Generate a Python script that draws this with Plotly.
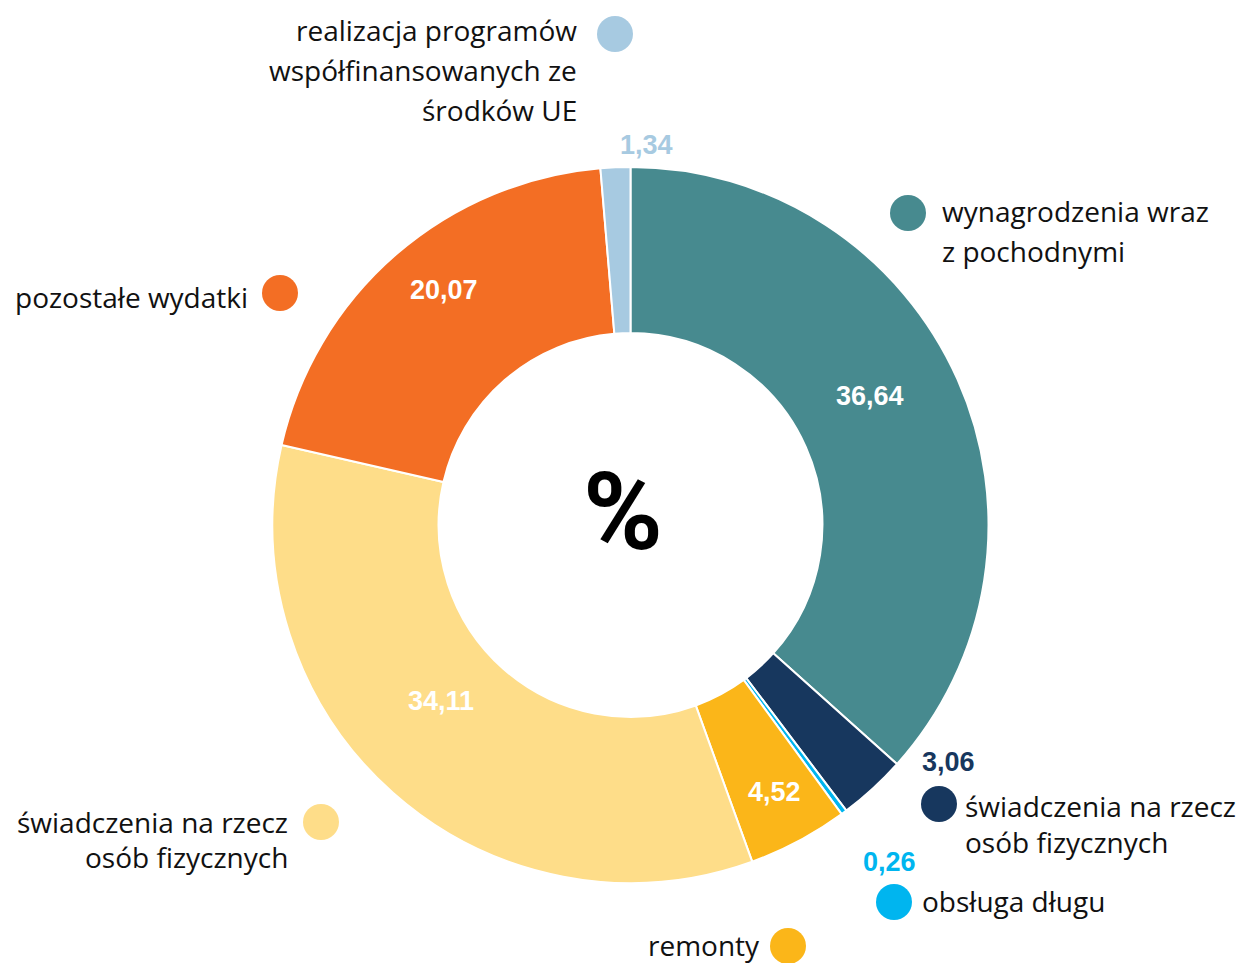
import plotly.graph_objects as go

# ---- data ----
categories = [
    "wynagrodzenia wraz z pochodnymi",
    "świadczenia na rzecz osób fizycznych (2)",
    "obsługa długu",
    "remonty",
    "świadczenia na rzecz osób fizycznych",
    "pozostałe wydatki",
    "realizacja programów współfinansowanych ze środków UE",
]
values = [36.64, 3.06, 0.26, 4.52, 34.11, 20.07, 1.34]
colors = ["#478A8F", "#17375E", "#00B5EF", "#FBB619", "#FEDD89", "#F36E24", "#A7CAE1"]
label_lines = [
    ["wynagrodzenia wraz", "z pochodnymi"],
    ["świadczenia na rzecz", "osób fizycznych"],
    ["obsługa długu"],
    ["remonty"],
    ["świadczenia na rzecz", "osób fizycznych"],
    ["pozostałe wydatki"],
    ["realizacja programów", "współfinansowanych ze", "środków UE"],
]

W, H = 1243, 963
cx, cy, R = 630.5, 525, 358

fig = go.Figure()
fig.add_trace(go.Pie(
    labels=categories,
    values=values,
    sort=False,
    direction="clockwise",
    rotation=0,
    hole=0.536,
    marker=dict(colors=colors, line=dict(color="white", width=2)),
    textinfo="none",
    hoverinfo="label+value",
    showlegend=False,
    domain=dict(x=[(cx - R) / W, (cx + R) / W], y=[(H - cy - R) / H, (H - cy + R) / H]),
))

def px(x):
    return x / W

def py(y):
    return 1 - y / H

annotations = []
shapes = []

# value labels: (x, y, color) per slice
val_pos = [
    (870, 396, "white"),
    (948, 762, colors[1]),
    (889, 862, colors[2]),
    (774, 792, "white"),
    (441, 701, "white"),
    (444, 290, "white"),
    (646, 145, colors[6]),
]
for v, (x, y, c) in zip(values, val_pos):
    annotations.append(dict(
        x=px(x), y=py(y), xref="paper", yref="paper",
        text=f"{v:.2f}".replace(".", ","), showarrow=False,
        xanchor="center", yanchor="middle",
        font=dict(family="Liberation Sans, Arial", size=27, color=c, weight="bold"),
    ))

# legend-like labels: (circle cx, cy, text anchor x, side, first line y, line spacing)
lab_pos = [
    (908, 213, 940, "left", 211, 40),
    (939, 804, 963, "left", 806, 36),
    (894, 902, 920, "left", 901, 36),
    (788, 946, 762, "right", 945, 36),
    (321, 822, 290, "right", 822, 35),
    (280, 293, 250, "right", 297, 36),
    (615, 34, 579, "right", 30, 40),
]
for lines, c, (ccx, ccy, tx, side, ty, ls) in zip(label_lines, colors, lab_pos):
    shapes.append(dict(
        type="circle", xref="paper", yref="paper",
        xsizemode="pixel", ysizemode="pixel",
        xanchor=px(ccx), yanchor=py(ccy),
        x0=-18, x1=18, y0=-18, y1=18,
        fillcolor=c, line=dict(width=0),
    ))
    for i, ln in enumerate(lines):
        annotations.append(dict(
            x=px(tx), y=py(ty + i * ls), xref="paper", yref="paper",
            text=ln, showarrow=False,
            xanchor=side, yanchor="middle",
            font=dict(family="Open Sans", size=28, color="#111111"),
        ))

annotations.append(dict(
    x=px(623), y=py(512), xref="paper", yref="paper",
    text="%", showarrow=False, xanchor="center", yanchor="middle",
    font=dict(family="Roboto", size=108, color="black", weight="bold"),
))

fig.update_layout(
    width=W, height=H,
    margin=dict(l=0, r=0, t=0, b=0),
    paper_bgcolor="white", plot_bgcolor="white",
    annotations=annotations, shapes=shapes,
    separators=", ",
)

fig.write_html(
    "out.html",
    config={"displayModeBar": False},
    post_script="document.body.style.margin='0';document.body.style.padding='0';document.body.style.overflow='hidden';",
)
